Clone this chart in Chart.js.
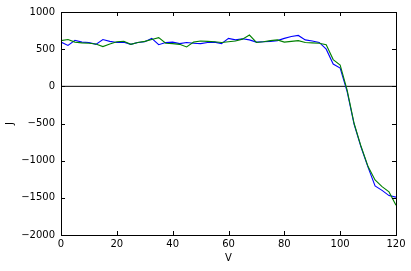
<!DOCTYPE html>
<html>
<head>
<meta charset="utf-8">
<script src="https://cdn.jsdelivr.net/npm/chart.js@4/dist/chart.umd.min.js"></script>
<style>
  html, body { margin: 0; padding: 0; background: #fff; }
  #wrap { width: 411px; height: 271px; }
</style>
</head>
<body>
<div id="wrap"><canvas id="c" width="411" height="271"></canvas></div>
<script>
// V values, every 2.5 from 0 to 120
const voltages = [0, 2.5, 5, 7.5, 10, 12.5, 15, 17.5, 20, 22.5, 25, 27.5, 30, 32.5, 35, 37.5,
  40, 42.5, 45, 47.5, 50, 52.5, 55, 57.5, 60, 62.5, 65, 67.5, 70, 72.5, 75, 77.5,
  80, 82.5, 85, 87.5, 90, 92.5, 95, 97.5, 100, 102.5, 105, 107.5, 110, 112.5, 115, 117.5, 120];

const blueJ = [595, 550, 620, 595, 590, 565, 630, 605, 590, 595, 565, 590, 600, 645, 560, 590,
  595, 575, 590, 580, 575, 590, 595, 575, 645, 625, 640, 625, 595, 600, 605, 615,
  645, 670, 685, 625, 610, 590, 500, 300, 245, -70, -510, -820, -1090, -1340, -1400, -1470, -1490];

const greenJ = [615, 630, 595, 585, 580, 570, 535, 570, 600, 605, 565, 590, 605, 630, 655, 580,
  575, 565, 530, 595, 610, 605, 600, 590, 600, 610, 635, 690, 590, 600, 615, 625,
  595, 605, 615, 590, 585, 580, 560, 360, 285, -50, -500, -810, -1080, -1260, -1350, -1420, -1600];

const xTicks = [0, 20, 40, 60, 80, 100, 120];
const yTicks = [-2000, -1500, -1000, -500, 0, 500, 1000];

const toPoints = (ys) => voltages.map((v, i) => ({ x: v, y: ys[i] }));
const fmt = (v) => String(v).replace('-', '\u2212');

// matplotlib style box with inward ticks on all sides
const frame = {
  id: 'frame',
  afterDraw(chart) {
    const { ctx, chartArea: a, scales } = chart;
    ctx.save();
    ctx.strokeStyle = '#000';
    ctx.lineWidth = 1;
    ctx.beginPath();
    xTicks.forEach((t) => {
      const x = Math.round(scales.x.getPixelForValue(t)) + 0.5;
      ctx.moveTo(x, a.bottom); ctx.lineTo(x, a.bottom - 4);
      ctx.moveTo(x, a.top); ctx.lineTo(x, a.top + 4);
    });
    yTicks.forEach((t) => {
      const y = Math.round(scales.y.getPixelForValue(t)) + 0.5;
      ctx.moveTo(a.left, y); ctx.lineTo(a.left + 4, y);
      ctx.moveTo(a.right, y); ctx.lineTo(a.right - 4, y);
    });
    ctx.stroke();
    ctx.strokeRect(Math.round(a.left) + 0.5, Math.round(a.top) + 0.5,
      Math.round(a.right - a.left), Math.round(a.bottom - a.top));
    ctx.restore();
  }
};

const font = { family: "'DejaVu Sans', sans-serif", size: 10 };

new Chart(document.getElementById('c'), {
  type: 'line',
  data: {
    datasets: [
      {
        data: [{ x: 0, y: 0 }, { x: 120, y: 0 }],
        borderColor: '#000000',
        borderWidth: 1,
        pointRadius: 0,
        order: 2,
      },
      {
        data: toPoints(blueJ),
        borderColor: '#0000ff',
        borderWidth: 1.1,
        pointRadius: 0,
        tension: 0,
        order: 1,
      },
      {
        data: toPoints(greenJ),
        borderColor: '#008000',
        borderWidth: 1.1,
        pointRadius: 0,
        tension: 0,
        order: 0,
      },
    ],
  },
  options: {
    responsive: false,
    animation: false,
    layout: { padding: { left: 0, top: 12, right: 15, bottom: 3 } },
    plugins: { legend: { display: false }, tooltip: { enabled: false } },
    scales: {
      x: {
        type: 'linear',
        min: 0,
        max: 120,
        grid: { display: false, drawTicks: false },
        border: { display: false },
        afterBuildTicks: (s) => { s.ticks = xTicks.map((v) => ({ value: v })); },
        afterFit: (s) => { s.height = 33; },
        ticks: { color: '#000', font, padding: 3, maxRotation: 0, callback: fmt },
        title: { display: true, text: 'V', color: '#000', font, padding: { top: 0 } },
      },
      y: {
        min: -2000,
        max: 1000,
        grid: { display: false, drawTicks: false },
        border: { display: false },
        afterBuildTicks: (s) => { s.ticks = yTicks.map((v) => ({ value: v })); },
        afterFit: (s) => { s.width = 61; },
        ticks: { color: '#000', font, padding: 6, callback: fmt },
        title: { display: true, text: 'J', color: '#000', font, padding: { bottom: 0 } },
      },
    },
  },
  plugins: [frame],
});
</script>
</body>
</html>
